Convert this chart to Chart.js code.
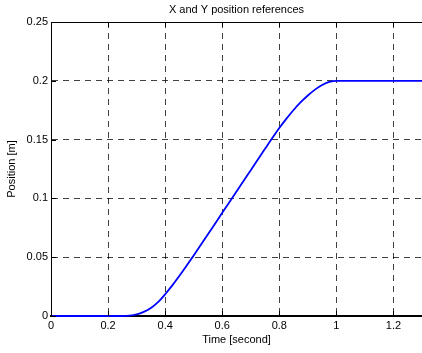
<!DOCTYPE html>
<html>
<head>
<meta charset="utf-8">
<script src="https://cdn.jsdelivr.net/npm/chart.js@4/dist/chart.umd.min.js"></script>
<style>
	html, body { margin: 0; padding: 0; background: #fff; }
</style>
</head>
<body>
<canvas id="chart" width="422" height="353"></canvas>
<script>
// position reference
const times = [0, 0.25, 0.275, 0.3, 0.325, 0.35, 0.375, 0.4, 0.425, 0.45, 0.475, 0.5, 0.55, 0.6, 0.65, 0.7, 0.75, 0.8, 0.825, 0.85, 0.875, 0.9, 0.925, 0.95, 0.975, 1.0, 1.3];
const positions = [0, 0, 0.0003, 0.0013, 0.0035, 0.0068, 0.0118, 0.0185, 0.026, 0.0342, 0.0428, 0.0515, 0.0695, 0.0877, 0.1058, 0.124, 0.1422, 0.1598, 0.1678, 0.1752, 0.1818, 0.1875, 0.1925, 0.1964, 0.199, 0.2, 0.2];

const xTicks = [0, 0.2, 0.4, 0.6, 0.8, 1, 1.2];
const xTickLabels = ['0', '0.2', '0.4', '0.6', '0.8', '1', '1.2'];
const yTicks = [0, 0.05, 0.1, 0.15, 0.2, 0.25];
const yTickLabels = ['0', '0.05', '0.1', '0.15', '0.2', '0.25'];

const FONT = 'Liberation Sans, Arial, Helvetica, sans-serif';
Chart.defaults.font.family = FONT;
Chart.defaults.font.size = 11;
Chart.defaults.color = '#000';

// top border + small inward ticks, matlab style
const frame = {
	id: 'frame',
	afterDatasetsDraw(chart) {
		const { ctx, chartArea: a, scales: { x, y } } = chart;
		ctx.save();
		ctx.strokeStyle = '#000';
		ctx.lineWidth = 1;
		ctx.beginPath();
		ctx.moveTo(a.left, a.top + 0.5);
		ctx.lineTo(a.right, a.top + 0.5);
		xTicks.forEach((v) => {
			const px = Math.round(x.getPixelForValue(v)) + 0.5;
			ctx.moveTo(px, a.bottom);
			ctx.lineTo(px, a.bottom - 5);
			ctx.moveTo(px, a.top);
			ctx.lineTo(px, a.top + 5);
		});
		yTicks.forEach((v) => {
			const py = Math.round(y.getPixelForValue(v)) + 0.5;
			ctx.moveTo(a.left, py);
			ctx.lineTo(a.left + 5, py);
		});
		ctx.stroke();
		ctx.restore();
	},
};

const gridColor = 'rgba(0, 0, 0, 0.75)';

const config = {
	type: 'line',
	data: {
		datasets: [
			{
				label: 'Position',
				data: times.map((t, i) => ({ x: t, y: positions[i] })),
				borderColor: '#0000ff',
				borderWidth: 1.8,
				pointRadius: 0,
				cubicInterpolationMode: 'monotone',
				fill: false,
				clip: 4,
			},
		],
	},
	options: {
		responsive: false,
		animation: false,
		devicePixelRatio: 1,
		layout: { padding: 0 },
		plugins: {
			legend: { display: false },
			tooltip: { enabled: false },
			title: {
				display: true,
				text: 'X and Y position references',
				fullSize: false,
				color: '#000',
				font: { size: 11, weight: 'normal' },
				padding: { top: 3, bottom: 5.8 },
			},
		},
		scales: {
			x: {
				type: 'linear',
				min: 0,
				max: 1.3,
				afterBuildTicks: (s) => { s.ticks = xTicks.map((v) => ({ value: v })); },
				afterFit: (s) => { s.height = 37; },
				ticks: {
					autoSkip: false,
					maxRotation: 0,
					padding: 3,
					callback: (v) => xTickLabels[xTicks.indexOf(v)],
				},
				grid: { color: gridColor, lineWidth: 1, drawTicks: false },
				border: { display: true, color: '#000', width: 2, dash: [6, 5] },
				title: {
					display: true,
					text: 'Time [second]',
					font: { size: 11 },
					padding: { top: 0, bottom: 6 },
				},
			},
			y: {
				type: 'linear',
				min: 0,
				max: 0.25,
				afterBuildTicks: (s) => { s.ticks = yTicks.map((v) => ({ value: v })); },
				afterFit: (s) => { s.width = 51; },
				ticks: {
					autoSkip: false,
					padding: 3,
					callback: (v) => yTickLabels[yTicks.indexOf(v)],
				},
				grid: { color: gridColor, lineWidth: 1, drawTicks: false },
				border: { display: true, color: '#000', width: 1, dash: [6, 5] },
				title: {
					display: true,
					text: 'Position [m]',
					font: { size: 11 },
					padding: { top: 5, bottom: 0 },
				},
			},
		},
	},
	plugins: [frame],
};

new Chart(document.getElementById('chart'), config);
</script>
</body>
</html>
